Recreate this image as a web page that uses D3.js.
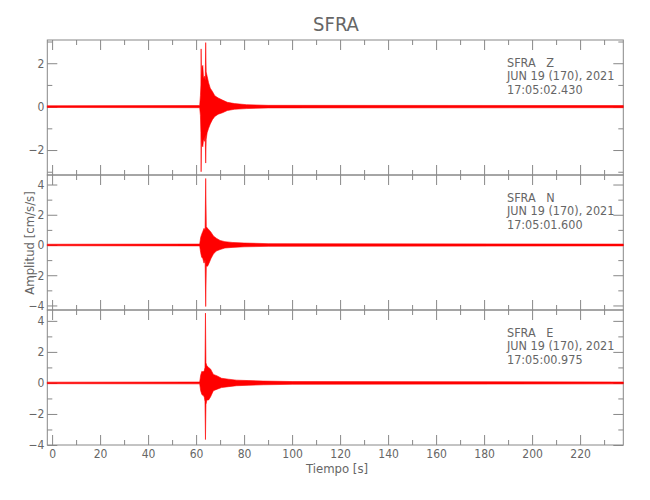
<!DOCTYPE html>
<html><head><meta charset="utf-8">
<script src="https://cdn.jsdelivr.net/npm/d3@7"></script>
<style>
body{margin:0;background:#fff}
text{font-family:"DejaVu Sans Condensed","DejaVu Sans",sans-serif;font-stretch:condensed;fill:#666}
</style></head><body><svg id="c" width="650" height="500"></svg>
<script>
const title = "SFRA";
const station = "SFRA";
const components = ["Z", "N", "E"];
const dateLabel = "JUN 19 (170), 2021";
const startTimes = ["17:05:02.430", "17:05:01.600", "17:05:00.975"];
const xLabel = "Tiempo [s]";
const yLabel = "Amplitud [cm/s/s]";
const timeDomain = [-2, 238];
const xMajorTicks = [0, 20, 40, 60, 80, 100, 120, 140, 160, 180, 200, 220];
const xMinorTicks = [10, 30, 50, 70, 90, 110, 130, 150, 170, 190, 210, 230];
const yMajorTicks = [-4, -2, 0, 2, 4];
const yMinorTicks = [-3, -1, 1, 3];

// envelope of each trace (time s, upper, lower)
const zTime = [-2, 61.5, 61.8, 62.0, 62.1, 62.25, 62.5, 62.8, 63.1, 63.5, 63.8, 64.0, 64.2, 64.6, 65.2, 65.9, 66.8, 67.8, 69.2, 71, 73, 76, 81, 90, 238];
const zHigh = [0.04, 0.05, 0.5, 1.0, 2.66, 1.2, 1.85, 1.9, 1.3, 1.4, 1.2, 2.95, 1.6, 1.4, 1.1, 0.85, 0.7, 0.5, 0.4, 0.3, 0.2, 0.14, 0.09, 0.06, 0.05];
const zLow = [-0.04, -0.05, -0.4, -1.2, -3.0, -1.3, -1.8, -1.85, -1.5, -1.6, -1.3, -2.6, -1.5, -1.2, -1.0, -0.8, -0.6, -0.45, -0.35, -0.28, -0.18, -0.12, -0.09, -0.06, -0.05];
const zRange = [-3.15, 3.07];

const nTime = [-2, 61.5, 61.9, 62.3, 62.8, 63.3, 63.75, 64.0, 64.25, 64.8, 65.4, 66.2, 67.2, 68.4, 70, 72, 75, 80, 90, 238];
const nHigh = [0.05, 0.06, 0.5, 0.7, 0.9, 1.1, 1.0, 4.4, 1.2, 1.1, 1.0, 0.85, 0.6, 0.45, 0.3, 0.22, 0.17, 0.13, 0.09, 0.06];
const nLow = [-0.05, -0.06, -0.5, -0.8, -0.9, -1.2, -1.0, -4.07, -1.4, -1.4, -1.2, -0.9, -0.6, -0.4, -0.3, -0.2, -0.16, -0.12, -0.09, -0.06];
const nRange = [-4.3, 4.63];

const eTime = [-2, 61.5, 61.9, 62.4, 62.9, 63.4, 63.7, 63.9, 64.1, 64.5, 65.2, 66, 67.2, 68.8, 70.6, 73.5, 76.8, 82, 88, 100, 238];
const eHigh = [0.05, 0.06, 0.5, 0.75, 0.7, 0.8, 1.0, 4.5, 1.3, 1.1, 1.0, 0.9, 0.55, 0.45, 0.3, 0.24, 0.18, 0.15, 0.12, 0.09, 0.06];
const eLow = [-0.05, -0.06, -0.5, -0.75, -0.8, -0.9, -1.2, -3.65, -1.4, -1.1, -1.1, -0.9, -0.5, -0.4, -0.3, -0.24, -0.18, -0.15, -0.12, -0.09, -0.06];
const eRange = [-4.0, 4.7];

const traces = [
  {time: zTime, high: zHigh, low: zLow, range: zRange},
  {time: nTime, high: nHigh, low: nLow, range: nRange},
  {time: eTime, high: eHigh, low: eLow, range: eRange}
];

const svg = d3.select("#c");
const left = 47.3, right = 623.3, top0 = 40, panelH = 135;
const frameColor = "#888888";
const x = d3.scaleLinear().domain(timeDomain).range([left, right]);

svg.append("text").attr("x", 336).attr("y", 31).attr("text-anchor", "middle")
  .style("font-size", "20px").text(title);

traces.forEach((tr, i) => {
  const y0 = top0 + i * panelH, y1 = y0 + panelH;
  const y = d3.scaleLinear().domain(tr.range).range([y1, y0]);
  const g = svg.append("g");
  const maj = yMajorTicks.filter(v => v >= tr.range[0] && v <= tr.range[1]);
  const mnr = yMinorTicks.filter(v => v >= tr.range[0] && v <= tr.range[1]);

  const styleAxis = sel => { sel.select(".domain").remove(); sel.selectAll("line").attr("stroke", frameColor); sel.selectAll("text").style("font-size", "12px").attr("fill", "#666"); };

  g.append("g").attr("transform", `translate(${left},0)`)
    .call(d3.axisLeft(y).tickValues(maj).tickSize(-10).tickPadding(3).tickFormat(d => d < 0 ? "\u2212" + Math.abs(d) : d)).call(styleAxis);
  g.append("g").attr("transform", `translate(${left},0)`)
    .call(d3.axisLeft(y).tickValues(mnr).tickSize(-5).tickFormat("")).call(styleAxis);
  g.append("g").attr("transform", `translate(${right},0)`)
    .call(d3.axisRight(y).tickValues(maj).tickSize(-10).tickFormat("")).call(styleAxis);
  g.append("g").attr("transform", `translate(${right},0)`)
    .call(d3.axisRight(y).tickValues(mnr).tickSize(-5).tickFormat("")).call(styleAxis);

  g.append("g").attr("transform", `translate(0,${y0})`)
    .call(d3.axisTop(x).tickValues(xMajorTicks).tickSize(-10).tickFormat("")).call(styleAxis);
  g.append("g").attr("transform", `translate(0,${y0})`)
    .call(d3.axisTop(x).tickValues(xMinorTicks).tickSize(-5).tickFormat("")).call(styleAxis);
  const isLast = i === traces.length - 1;
  g.append("g").attr("transform", `translate(0,${y1})`)
    .call(d3.axisBottom(x).tickValues(xMajorTicks).tickSize(-10).tickPadding(4).tickFormat(isLast ? d => d : "")).call(styleAxis);
  g.append("g").attr("transform", `translate(0,${y1})`)
    .call(d3.axisBottom(x).tickValues(xMinorTicks).tickSize(-5).tickFormat("")).call(styleAxis);

  g.append("rect").attr("x", left).attr("y", y0).attr("width", right - left).attr("height", panelH)
    .attr("fill", "none").attr("stroke", frameColor).attr("stroke-width", 1);

  const pts = tr.time.map((t, k) => ({t, hi: tr.high[k], lo: tr.low[k]}));
  const area = d3.area().x(d => x(d.t)).y0(d => y(d.lo)).y1(d => y(d.hi));
  g.append("path").datum(pts).attr("d", area)
    .attr("fill", "#ff0000").attr("stroke", "#ff0000").attr("stroke-width", 0.6).attr("stroke-linejoin", "miter");

  const tx = 507;
  const lines = [station + "   " + components[i], dateLabel, startTimes[i]];
  lines.forEach((s, k) => {
    svg.append("text").attr("x", tx).attr("y", y0 + 26.5 + k * 13.8)
      .style("font-size", "12.5px").style("white-space", "pre").text(s);
  });
});

svg.append("text").attr("x", 337).attr("y", 473).attr("text-anchor", "middle")
  .style("font-size", "13px").text(xLabel);
svg.append("text").attr("transform", "translate(34,243) rotate(-90)").attr("text-anchor", "middle")
  .style("font-size", "13px").text(yLabel);
</script></body></html>
